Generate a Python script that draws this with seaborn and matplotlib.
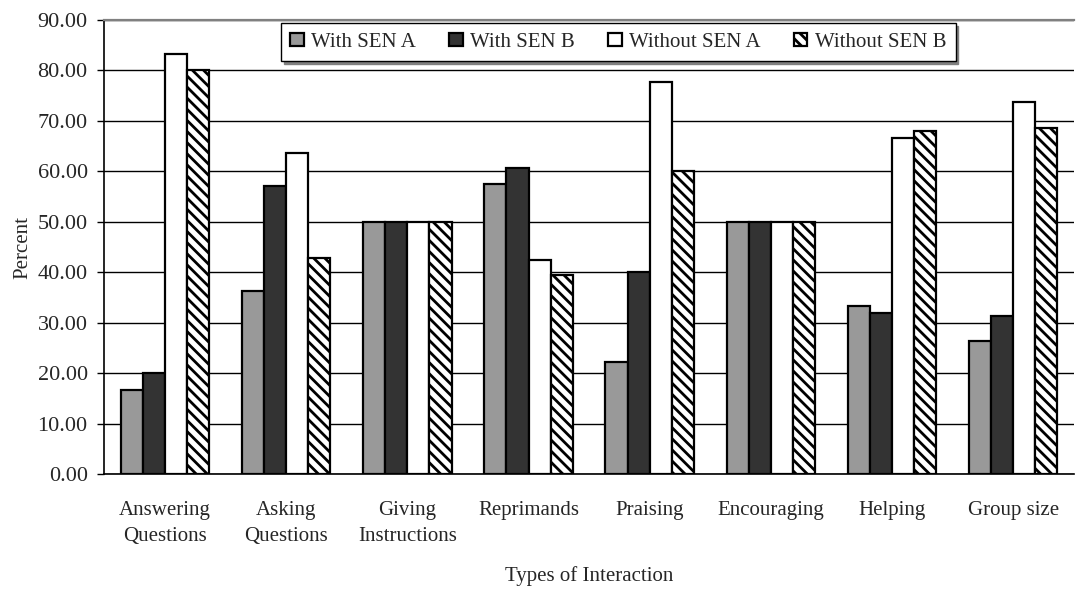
import numpy as np
import pandas as pd
import matplotlib
matplotlib.use("Agg")
import matplotlib.pyplot as plt
from matplotlib.patches import Patch
import seaborn as sns

# ---------- data ----------
categories = ["Answering\nQuestions", "Asking\nQuestions", "Giving\nInstructions",
              "Reprimands", "Praising", "Encouraging", "Helping", "Group size"]
series = ["With SEN A", "With SEN B", "Without SEN A", "Without SEN B"]
with_sen_a = [16.67, 36.36, 50.0, 57.6, 22.2, 50.0, 33.3, 26.3]
with_sen_b = [20.0, 57.14, 50.0, 60.7, 40.0, 50.0, 31.9, 31.3]
without_sen_a = [83.33, 63.64, 50.0, 42.5, 77.8, 50.0, 66.7, 73.7]
without_sen_b = [80.0, 42.86, 50.0, 39.4, 60.0, 50.0, 68.1, 68.7]

colors = ["#999999", "#333333", "#ffffff", "#ffffff"]

rows = []
for name, vals in zip(series, [with_sen_a, with_sen_b, without_sen_a, without_sen_b]):
    for cat, v in zip(categories, vals):
        rows.append({"category": cat, "series": name, "value": v})
df = pd.DataFrame(rows)

FS = 15

# ---------- plot ----------
sns.set_theme(style="white")
plt.rcParams["font.family"] = ["Liberation Serif", "DejaVu Serif"]
plt.rcParams["hatch.linewidth"] = 2.0

fig = plt.figure(figsize=(10.76, 5.89), dpi=100)
ax = fig.add_axes([0.097, 0.195, 0.901, 0.771])

sns.barplot(data=df, x="category", y="value", hue="series", order=categories,
            hue_order=series, palette=colors, width=0.73, gap=0,
            edgecolor="black", linewidth=1.6, saturation=1, legend=False, ax=ax)

# hatch the last series
n = len(categories)
for p in ax.patches[3 * n:4 * n]:
    p.set_hatch("\\\\\\")

ax.set_ylim(0, 90)
ax.set_yticks(np.arange(0, 91, 10))
ax.set_yticklabels([f"{t:.2f}" for t in np.arange(0, 91, 10)], fontsize=16)
ax.set_xlim(-0.5, n - 0.5)
ax.set_xticks(range(n))
ax.set_xticklabels(categories, fontsize=FS, linespacing=1.5)
ax.set_xticks(np.arange(-0.5, n, 1), minor=True)
ax.tick_params(axis="x", which="major", length=0, pad=19)
ax.tick_params(axis="x", which="minor", length=6, width=1, color="black", direction="out")
ax.tick_params(axis="y", length=5, width=1, color="black", direction="out", left=True, pad=7)

ax.grid(axis="y", color="black", linewidth=1)
ax.set_axisbelow(True)
ax.spines["right"].set_visible(False)
for s in ax.spines.values():
    s.set_color("black")
    s.set_linewidth(1.2)
ax.spines["top"].set_color("#808080")
ax.spines["top"].set_linewidth(1.6)

ax.set_xlabel("Types of Interaction", fontsize=FS, labelpad=15)
ax.set_ylabel("Percent", fontsize=FS, labelpad=4)

handles = [Patch(facecolor=c, edgecolor="black", linewidth=1.6, label=s,
                 hatch=("\\\\\\" if i == 3 else None))
           for i, (s, c) in enumerate(zip(series, colors))]
leg = ax.legend(handles=handles, loc="upper center", bbox_to_anchor=(0.530, 1.0),
                ncol=4, fontsize=FS, frameon=True, fancybox=False,
                shadow={"color": "#808080", "alpha": 1},
                handlelength=0.65, handleheight=0.65, handletextpad=0.35,
                columnspacing=1.6, borderpad=0.45, borderaxespad=0.15,
                edgecolor="black")
leg.get_frame().set_linewidth(1.0)

fig.savefig("out.png", dpi=100)
